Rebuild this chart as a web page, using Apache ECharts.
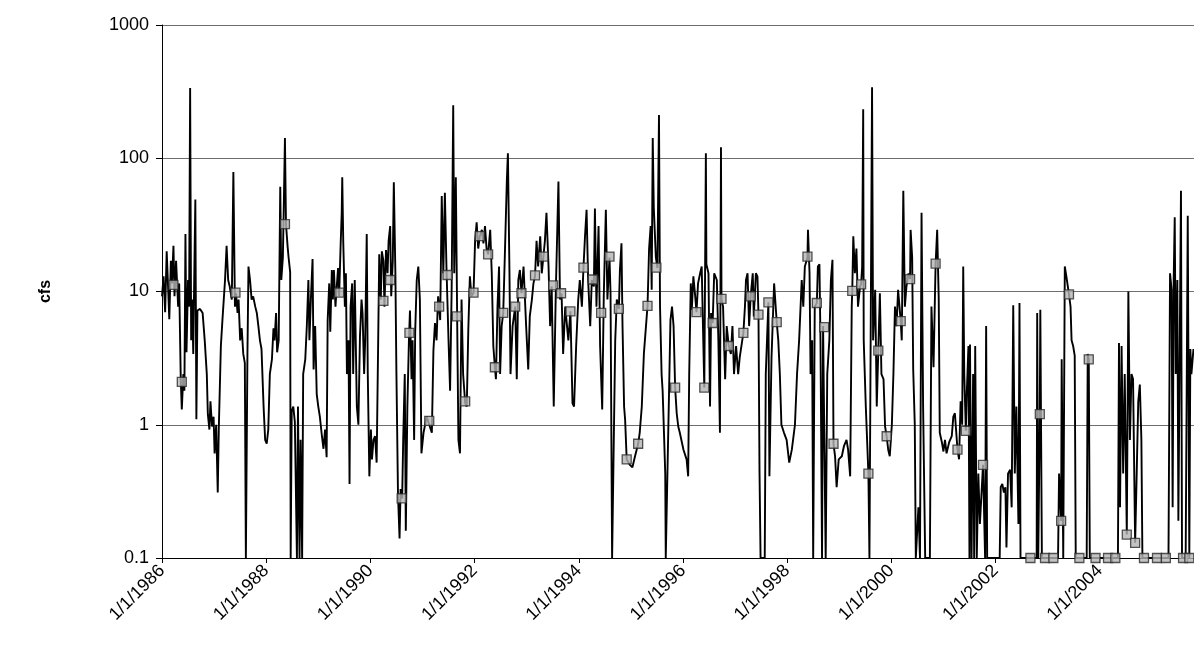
<!DOCTYPE html>
<html><head><meta charset="utf-8">
<script src="https://cdn.jsdelivr.net/npm/echarts@6/dist/echarts.min.js"></script>
<style>html,body{margin:0;padding:0;background:#fff}#c{width:1194px;height:668px}</style>
</head><body><div id="c"></div>
<script>
// Daily flow (cfs) as [decimal year, value]
const flow1986_1991 = [[1986.00,9.2],[1986.03,13],[1986.06,7],[1986.09,20],[1986.12,10],[1986.14,6.2],[1986.17,17],[1986.19,11.5],[1986.22,22],[1986.24,9.2],[1986.27,17],[1986.29,11.5],[1986.31,7.7],[1986.33,11.5],[1986.36,2.2],[1986.38,1.3],[1986.41,2.4],[1986.43,1.8],[1986.45,27],[1986.47,3.5],[1986.50,12.2],[1986.52,7.7],[1986.54,336],[1986.56,4.3],[1986.58,8.7],[1986.60,3.4],[1986.62,13.7],[1986.64,49],[1986.66,1.1],[1986.68,7.2],[1986.73,7.4],[1986.78,6.9],[1986.82,4.3],[1986.86,2.4],[1986.88,1.2],[1986.91,0.92],[1986.93,1.5],[1986.96,0.97],[1986.99,1.15],[1987.01,0.61],[1987.04,1.0],[1987.07,0.31],[1987.09,0.92],[1987.13,3.9],[1987.16,6.1],[1987.21,12.2],[1987.24,22],[1987.27,12.2],[1987.30,10.9],[1987.34,8.7],[1987.37,79],[1987.40,7.7],[1987.42,9.7],[1987.45,6.9],[1987.47,8.7],[1987.50,4.3],[1987.53,5.3],[1987.56,3.4],[1987.59,2.9],[1987.61,0.1],[1987.63,0.1],[1987.64,3.4],[1987.66,15.4],[1987.69,12.2],[1987.72,8.7],[1987.75,9.2],[1987.79,7.7],[1987.82,6.9],[1987.85,5.5],[1987.88,4.3],[1987.91,3.7],[1987.95,1.37],[1987.98,0.77],[1988.01,0.72],[1988.04,0.92],[1988.07,2.4],[1988.11,3.1],[1988.14,5.3],[1988.16,4.3],[1988.19,6.9],[1988.21,3.5],[1988.24,4.3],[1988.27,61],[1988.29,12.2],[1988.32,18],[1988.34,49],[1988.36,142],[1988.38,32],[1988.41,22],[1988.43,18],[1988.46,14],[1988.47,0.1],[1988.49,1.26],[1988.52,1.37],[1988.55,1.05],[1988.59,0.1],[1988.61,1.37],[1988.64,0.1],[1988.66,0.77],[1988.69,0.1],[1988.71,2.4],[1988.75,3.1],[1988.78,5.5],[1988.81,12.2],[1988.83,4.3],[1988.86,9.2],[1988.89,17.5],[1988.91,2.6],[1988.94,5.5],[1988.97,1.7],[1989.00,1.37],[1989.03,1.15],[1989.07,0.82],[1989.10,0.66],[1989.13,0.92],[1989.16,0.57],[1989.18,6.1],[1989.21,11.5],[1989.23,5.0],[1989.26,14.5],[1989.28,8.7],[1989.30,14.5],[1989.33,7.7],[1989.35,10.3],[1989.38,15],[1989.40,9.2],[1989.43,23],[1989.45,39],[1989.46,72],[1989.48,23],[1989.51,7.7],[1989.53,13.7],[1989.55,2.4],[1989.58,4.3],[1989.60,0.36],[1989.62,7.7],[1989.65,11.5],[1989.67,2.4],[1989.70,12.2],[1989.74,1.37],[1989.77,1.0],[1989.80,4.6],[1989.83,8.7],[1989.85,6.9],[1989.88,2.4],[1989.90,4.3],[1989.93,27],[1989.95,2.4],[1989.98,0.41],[1990.01,0.92],[1990.03,0.55],[1990.06,0.77],[1990.09,0.82],[1990.12,0.52],[1990.15,4.3],[1990.17,19],[1990.20,8.7],[1990.22,20],[1990.25,17],[1990.27,7.7],[1990.30,20.5],[1990.33,13.7],[1990.35,24],[1990.38,31],[1990.40,9.2],[1990.43,17],[1990.45,66],[1990.48,13.7],[1990.50,2.4],[1990.53,0.3],[1990.56,0.14],[1990.58,0.33],[1990.61,0.28],[1990.63,0.77],[1990.66,2.4],[1990.68,0.16],[1990.71,1.37],[1990.74,4.3],[1990.76,7.2],[1990.79,2.2],[1990.81,4.3],[1990.84,0.77],[1990.86,5.0],[1990.89,12.2],[1990.92,15.4],[1990.95,8.7]];

const flow1991_1996 = [[1990.98,0.61],[1991.02,0.87],[1991.05,1.0],[1991.08,1.15],[1991.13,1.0],[1991.18,0.87],[1991.21,3.6],[1991.24,5.8],[1991.27,4.3],[1991.30,9.2],[1991.34,6.1],[1991.37,52],[1991.40,13.7],[1991.43,55],[1991.46,15.4],[1991.50,4.3],[1991.53,1.8],[1991.56,10.3],[1991.59,250],[1991.61,13.7],[1991.64,72],[1991.67,4.3],[1991.69,0.77],[1991.72,0.61],[1991.75,8.7],[1991.78,2.4],[1991.82,1.45],[1991.85,1.37],[1991.88,5.2],[1991.91,13],[1991.94,9.2],[1991.98,9.8],[1992.01,24],[1992.04,33],[1992.07,21],[1992.10,26],[1992.14,29],[1992.17,23],[1992.20,31],[1992.23,21],[1992.26,19],[1992.30,29],[1992.33,13.7],[1992.36,3.9],[1992.39,2.7],[1992.41,2.2],[1992.44,7.7],[1992.47,15.4],[1992.49,2.4],[1992.52,5.5],[1992.55,6.9],[1992.58,18],[1992.62,69],[1992.64,109],[1992.67,13.7],[1992.69,2.4],[1992.73,5.5],[1992.78,7.7],[1992.81,2.2],[1992.84,12.2],[1992.87,14.5],[1992.90,9.7],[1992.94,15.4],[1992.99,5.5],[1993.03,2.6],[1993.06,6.5],[1993.10,8.7],[1993.13,11.5],[1993.16,13],[1993.19,24],[1993.22,15.4],[1993.26,26],[1993.29,13.7],[1993.32,18],[1993.35,24],[1993.38,39],[1993.42,15.4],[1993.45,5.5],[1993.48,10.9],[1993.52,1.37],[1993.56,10.3],[1993.61,67],[1993.64,8.7],[1993.67,9.7],[1993.70,3.4],[1993.74,7.7],[1993.80,4.3],[1993.84,7.1],[1993.88,1.45],[1993.91,1.37],[1993.95,3.9],[1993.99,8.7],[1994.02,12.2],[1994.06,7.7],[1994.09,15],[1994.12,26],[1994.15,41],[1994.18,12.2],[1994.22,5.5],[1994.25,12.2],[1994.29,10.9],[1994.31,42],[1994.34,7.7],[1994.38,31],[1994.41,3.9],[1994.45,1.3],[1994.48,9.2],[1994.52,41],[1994.55,8.7],[1994.59,18],[1994.61,9.7],[1994.64,0.1],[1994.67,0.1],[1994.70,4.3],[1994.73,8.7],[1994.77,7.4],[1994.79,14.5],[1994.82,23],[1994.84,5.5],[1994.87,1.37],[1994.89,1.09],[1994.92,0.55],[1994.98,0.5],[1995.03,0.48],[1995.08,0.58],[1995.14,0.72],[1995.17,0.87],[1995.21,1.37],[1995.25,3.4],[1995.32,7.8],[1995.35,21],[1995.38,31],[1995.40,10.3],[1995.42,142],[1995.44,43],[1995.48,18],[1995.51,15],[1995.54,211],[1995.56,7.7],[1995.59,2.4],[1995.61,1.8],[1995.64,0.77],[1995.66,0.43],[1995.67,0.1],[1995.70,0.1],[1995.74,2.4],[1995.76,6.1],[1995.79,7.7],[1995.82,5.5],[1995.85,1.9],[1995.88,1.22],[1995.91,0.97],[1995.94,0.87]];

const flow1996_2001 = [[1996.01,0.65],[1996.07,0.55],[1996.10,0.41],[1996.12,2.4],[1996.15,11.5],[1996.17,7.3],[1996.20,13],[1996.23,9.7],[1996.26,7.0],[1996.29,11.5],[1996.33,13.7],[1996.36,15.4],[1996.39,4.3],[1996.41,1.9],[1996.44,109],[1996.45,16],[1996.49,13.7],[1996.52,1.37],[1996.54,6.9],[1996.57,5.8],[1996.60,13.7],[1996.65,12.2],[1996.68,4.3],[1996.71,0.87],[1996.73,121],[1996.74,8.8],[1996.77,7.7],[1996.81,2.2],[1996.84,5.5],[1996.88,3.9],[1996.92,3.4],[1996.95,5.5],[1996.98,2.4],[1997.02,3.9],[1997.06,2.4],[1997.09,3.2],[1997.16,4.9],[1997.19,7.7],[1997.21,12.2],[1997.24,13.7],[1997.27,5.5],[1997.30,9.2],[1997.34,13.7],[1997.36,6.5],[1997.40,13.7],[1997.43,13],[1997.45,6.7],[1997.47,0.43],[1997.49,0.1],[1997.57,0.1],[1997.59,2.4],[1997.64,8.3],[1997.66,0.41],[1997.70,3.2],[1997.75,11.5],[1997.80,5.9],[1997.83,4.3],[1997.86,2.4],[1997.89,1.0],[1997.94,0.87],[1997.99,0.77],[1998.04,0.52],[1998.09,0.65],[1998.15,1.0],[1998.19,2.4],[1998.23,4.3],[1998.28,12.2],[1998.31,7.7],[1998.34,15.4],[1998.39,18],[1998.40,29],[1998.43,13.7],[1998.45,2.4],[1998.48,4.3],[1998.50,0.1],[1998.53,7.7],[1998.57,8.2],[1998.59,15.4],[1998.62,16],[1998.64,4.3],[1998.67,0.1],[1998.69,5.5],[1998.71,5.4],[1998.74,0.1],[1998.77,2.4],[1998.81,4.3],[1998.84,12.2],[1998.87,17.3],[1998.89,0.72],[1998.92,0.58],[1998.95,0.34],[1998.99,0.55],[1999.05,0.58],[1999.09,0.69],[1999.14,0.77],[1999.17,0.65],[1999.21,0.41],[1999.24,7.7],[1999.25,10.1],[1999.27,26],[1999.30,13.7],[1999.33,21],[1999.36,7.7],[1999.40,10.9],[1999.42,11.3],[1999.44,15.4],[1999.46,233],[1999.47,4.3],[1999.51,1.37],[1999.56,0.43],[1999.58,0.1],[1999.61,0.1],[1999.63,341],[1999.65,4.3],[1999.69,10.3],[1999.72,1.37],[1999.75,3.6],[1999.78,9.7],[1999.81,2.4],[1999.85,2.2],[1999.88,0.97],[1999.91,0.82],[1999.94,0.65],[1999.97,0.58],[2000.01,1.0],[2000.04,2.4],[2000.07,7.7],[2000.10,5.5],[2000.13,10.3],[2000.18,6.0],[2000.20,4.3],[2000.23,57],[2000.26,7.7],[2000.29,10.9],[2000.33,13.7],[2000.36,12.4],[2000.37,29],[2000.40,18],[2000.42,2.6],[2000.45,1.0],[2000.47,0.1],[2000.52,0.24],[2000.55,0.1],[2000.58,39],[2000.61,1.37],[2000.65,0.1],[2000.74,0.1],[2000.77,7.7],[2000.81,2.7],[2000.85,16.2],[2000.88,29],[2000.91,8.7],[2000.93,0.87]];

const flow2001_2006 = [[2000.97,0.74],[2001.00,0.63],[2001.03,0.77],[2001.06,0.61],[2001.11,0.74],[2001.16,0.82],[2001.19,1.15],[2001.22,1.22],[2001.27,0.65],[2001.30,0.55],[2001.33,1.5],[2001.36,1.0],[2001.38,15.4],[2001.40,2.4],[2001.43,0.9],[2001.45,1.8],[2001.48,3.9],[2001.50,0.1],[2001.51,4.0],[2001.54,0.1],[2001.57,2.4],[2001.59,0.1],[2001.61,3.9],[2001.64,0.1],[2001.67,0.43],[2001.70,0.18],[2001.76,0.5],[2001.80,0.1],[2001.82,5.5],[2001.84,0.1],[2002.08,0.1],[2002.10,0.34],[2002.13,0.36],[2002.16,0.31],[2002.19,0.34],[2002.21,0.12],[2002.24,0.43],[2002.28,0.46],[2002.31,0.24],[2002.34,7.9],[2002.37,0.43],[2002.40,1.37],[2002.44,0.18],[2002.46,8.2],[2002.48,0.1],[2002.79,0.1],[2002.80,6.9],[2002.82,0.1],[2002.85,1.2],[2002.86,7.3],[2002.89,0.1],[2003.20,0.1],[2003.22,0.43],[2003.26,0.19],[2003.27,3.1],[2003.30,0.1],[2003.33,15.4],[2003.36,13],[2003.41,9.5],[2003.44,7.7],[2003.46,4.3],[2003.49,3.9],[2003.52,3.3],[2003.54,0.1],[2003.75,0.1],[2003.77,3.4],[2003.79,3.1],[2003.81,0.1],[2004.35,0.1],[2004.37,4.1],[2004.39,0.24],[2004.42,3.9],[2004.45,0.43],[2004.48,2.4],[2004.52,0.15],[2004.55,10],[2004.58,0.77],[2004.61,2.4],[2004.64,2.2],[2004.68,0.13],[2004.71,0.43],[2004.74,1.5],[2004.77,2.0],[2004.80,0.77],[2004.82,0.1],[2005.32,0.1],[2005.35,13.7],[2005.38,10.3],[2005.40,0.24],[2005.42,12.2],[2005.44,36],[2005.46,2.4],[2005.49,12.2],[2005.51,0.19],[2005.56,57],[2005.58,0.1],[2005.65,0.1],[2005.69,37],[2005.72,0.1],[2005.74,3.7],[2005.76,2.4],[2005.80,3.7]];

// Grab samples (square markers)
const sampleYears = [1986.22,1986.38,1987.41,1988.36,1989.40,1990.25,1990.38,1990.60,1990.75,1991.13,1991.32,1991.48,1991.66,1991.82,1991.98,1992.10,1992.26,1992.39,1992.55,1992.78,1992.90,1993.16,1993.32,1993.51,1993.66,1993.84,1994.09,1994.27,1994.43,1994.59,1994.77,1994.92,1995.14,1995.32,1995.49,1995.85,1996.26,1996.41,1996.57,1996.74,1996.88,1997.16,1997.30,1997.45,1997.64,1997.80,1998.39,1998.57,1998.71,1998.89,1999.25,1999.42,1999.56,1999.75,1999.91,2000.18,2000.36,2000.85,2001.27,2001.43,2001.76,2002.67,2002.85,2002.95,2003.11,2003.26,2003.41,2003.61,2003.79,2003.92,2004.16,2004.30,2004.52,2004.68,2004.85,2005.10,2005.27,2005.60,2005.72];
const sampleValues = [11.2,2.1,9.8,32,9.8,8.5,12.2,0.28,4.9,1.07,7.7,13.3,6.5,1.5,9.8,26,19,2.7,6.9,7.7,9.7,13.2,18.3,11.1,9.7,7.1,15.1,12.3,6.9,18.3,7.4,0.55,0.72,7.8,15.1,1.9,7.0,1.9,5.8,8.8,3.9,4.9,9.2,6.7,8.3,5.9,18.3,8.2,5.4,0.72,10.1,11.3,0.43,3.6,0.82,6.0,12.4,16.2,0.65,0.9,0.5,0.1,1.2,0.1,0.1,0.19,9.5,0.1,3.1,0.1,0.1,0.1,0.15,0.13,0.1,0.1,0.1,0.1,0.1];

const xTickYears = [1986,1988,1990,1992,1994,1996,1998,2000,2002,2004];
const xTickPrefix = '1/1/';
const yTicks = [0.1,1,10,100,1000];
const xMin = 1986, xMax = 2005.81, xStep = 2;

const flow = flow1986_1991.concat(flow1991_1996, flow1996_2001, flow2001_2006);
const samples = sampleYears.map((y, i) => [y, sampleValues[i]]);

const font = 'Liberation Sans, Arial, sans-serif';
const chart = echarts.init(document.getElementById('c'), null, {renderer: 'canvas'});
chart.setOption({
  animation: false,
  backgroundColor: '#fff',
  grid: {left: 162, right: 0, top: 25, bottom: 110},
  xAxis: {
    type: 'value', min: xMin, max: xMax, interval: xStep,
    axisLine: {show: true, lineStyle: {color: '#000', width: 1}},
    axisTick: {show: true, length: 5, lineStyle: {color: '#000'}},
    axisLabel: {
      rotate: 45, fontSize: 18, color: '#000', fontFamily: font, margin: 10,
      showMaxLabel: false,
      formatter: v => xTickYears.indexOf(Math.round(v)) >= 0 && Math.abs(v - Math.round(v)) < 1e-6 ? xTickPrefix + Math.round(v) : ''
    },
    splitLine: {show: false}
  },
  yAxis: {
    type: 'log', logBase: 10, min: yTicks[0], max: yTicks[yTicks.length - 1],
    name: 'cfs', nameLocation: 'middle', nameGap: 108, nameRotate: 90,
    nameTextStyle: {fontSize: 16, fontWeight: 'bold', color: '#000', fontFamily: font},
    axisLine: {show: true, lineStyle: {color: '#000', width: 1}},
    axisTick: {show: true, length: 6, lineStyle: {color: '#000'}},
    minorTick: {show: false},
    axisLabel: {fontSize: 18, color: '#000', fontFamily: font, margin: 13,
      formatter: v => String(parseFloat(Number(v).toPrecision(3)))},
    splitLine: {show: true, lineStyle: {color: '#6e6e6e', width: 1}}
  },
  series: [
    {type: 'line', data: flow, symbol: 'none', showSymbol: false,
     lineStyle: {color: '#000', width: 1.9}, clip: true, z: 2},
    {type: 'scatter', data: samples, symbol: 'rect', symbolSize: 9,
     itemStyle: {color: '#b4b4b4', borderColor: '#2a2a2a', borderWidth: 1.3}, z: 3}
  ]
});
</script>
</body></html>
